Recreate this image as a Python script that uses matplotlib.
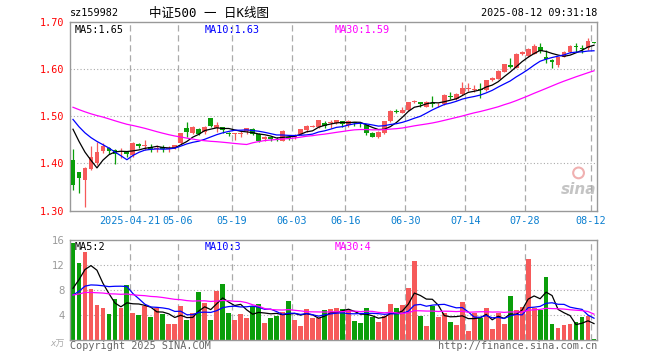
import numpy as np
import pandas as pd
import matplotlib
matplotlib.use("Agg")
import matplotlib.pyplot as plt

# ── data ────────────────────────────────────────────────────────────────────
date_labels = ["2025-04-21", "05-06", "05-19", "06-03", "06-16",
               "06-30", "07-14", "07-28", "08-12"]
date_index = [10, 18, 27, 37, 46, 56, 66, 76, 87]

opens = [1.407, 1.381, 1.365, 1.389, 1.400, 1.426, 1.432, 1.428, 1.419, 1.424,
         1.418, 1.441, 1.436, 1.434, 1.430, 1.434, 1.430, 1.433, 1.443, 1.474,
         1.464, 1.473, 1.467, 1.496, 1.474, 1.477, 1.464, 1.462, 1.463, 1.469,
         1.473, 1.462, 1.451, 1.455, 1.454, 1.448, 1.456, 1.455, 1.462, 1.471,
         1.478, 1.477, 1.486, 1.485, 1.485, 1.489, 1.481, 1.487, 1.485, 1.481,
         1.465, 1.457, 1.464, 1.489, 1.511, 1.506, 1.513, 1.529, 1.529, 1.520,
         1.528, 1.525, 1.525, 1.542, 1.536, 1.546, 1.557, 1.556, 1.558, 1.555,
         1.577, 1.579, 1.594, 1.608, 1.603, 1.632, 1.627, 1.632, 1.647, 1.625,
         1.619, 1.608, 1.626, 1.636, 1.649, 1.643, 1.644, 1.657]
highs = [1.430, 1.382, 1.392, 1.436, 1.445, 1.443, 1.434, 1.430, 1.432, 1.427,
         1.445, 1.443, 1.450, 1.441, 1.440, 1.438, 1.436, 1.440, 1.465, 1.488,
         1.479, 1.476, 1.479, 1.497, 1.488, 1.478, 1.466, 1.464, 1.469, 1.475,
         1.475, 1.464, 1.458, 1.456, 1.455, 1.470, 1.460, 1.462, 1.473, 1.481,
         1.481, 1.493, 1.489, 1.491, 1.493, 1.490, 1.491, 1.488, 1.486, 1.483,
         1.466, 1.468, 1.490, 1.513, 1.516, 1.520, 1.530, 1.535, 1.529, 1.533,
         1.543, 1.528, 1.546, 1.551, 1.550, 1.573, 1.571, 1.566, 1.571, 1.577,
         1.583, 1.597, 1.611, 1.624, 1.633, 1.637, 1.644, 1.652, 1.654, 1.640,
         1.622, 1.626, 1.637, 1.650, 1.654, 1.650, 1.666, 1.658]
lows = [1.344, 1.337, 1.308, 1.386, 1.397, 1.423, 1.420, 1.399, 1.411, 1.414,
        1.413, 1.432, 1.428, 1.425, 1.425, 1.424, 1.425, 1.430, 1.441, 1.455,
        1.462, 1.460, 1.462, 1.477, 1.467, 1.465, 1.458, 1.450, 1.456, 1.462,
        1.460, 1.446, 1.447, 1.447, 1.447, 1.447, 1.450, 1.452, 1.460, 1.467,
        1.477, 1.476, 1.475, 1.474, 1.483, 1.477, 1.478, 1.479, 1.478, 1.461,
        1.455, 1.453, 1.463, 1.488, 1.506, 1.506, 1.511, 1.528, 1.519, 1.519,
        1.520, 1.520, 1.524, 1.536, 1.535, 1.545, 1.553, 1.552, 1.538, 1.554,
        1.575, 1.578, 1.593, 1.603, 1.602, 1.630, 1.625, 1.632, 1.633, 1.612,
        1.601, 1.605, 1.625, 1.633, 1.635, 1.634, 1.641, 1.654]
closes = [1.354, 1.370, 1.391, 1.414, 1.424, 1.436, 1.427, 1.421, 1.421, 1.421,
          1.443, 1.437, 1.438, 1.430, 1.433, 1.431, 1.432, 1.438, 1.464, 1.467,
          1.477, 1.462, 1.478, 1.479, 1.481, 1.470, 1.462, 1.463, 1.465, 1.474,
          1.462, 1.448, 1.455, 1.451, 1.453, 1.469, 1.454, 1.460, 1.472, 1.480,
          1.479, 1.492, 1.480, 1.486, 1.492, 1.484, 1.489, 1.486, 1.484, 1.465,
          1.457, 1.467, 1.489, 1.512, 1.508, 1.513, 1.529, 1.533, 1.525, 1.531,
          1.526, 1.526, 1.545, 1.541, 1.546, 1.560, 1.560, 1.557, 1.555, 1.577,
          1.580, 1.596, 1.610, 1.604, 1.632, 1.636, 1.642, 1.649, 1.637, 1.621,
          1.615, 1.625, 1.636, 1.649, 1.646, 1.642, 1.659, 1.655]
volumes = [15.57, 12.37, 14.13, 8.16, 5.60, 5.12, 4.16, 6.56, 5.12, 8.80,
           4.32, 4.00, 5.44, 3.68, 5.07, 4.16, 2.56, 2.56, 5.44, 3.20,
           4.32, 7.68, 5.92, 3.20, 7.89, 8.96, 4.32, 3.20, 4.16, 3.52,
           5.44, 5.76, 2.72, 3.52, 3.84, 4.42, 6.24, 3.20, 2.24, 4.96,
           3.52, 3.52, 4.80, 4.96, 5.12, 4.96, 4.80, 3.04, 2.72, 5.12,
           3.68, 2.88, 3.84, 5.76, 5.12, 5.60, 8.37, 12.69, 3.84, 2.24,
           5.44, 3.68, 4.32, 2.88, 2.40, 6.08, 1.44, 4.32, 3.52, 5.12,
           1.76, 4.32, 2.56, 7.04, 4.80, 5.28, 13.00, 5.12, 4.80, 10.08,
           2.56, 1.92, 2.40, 2.56, 2.88, 3.68, 3.84, 0.16]

# sessions before the visible window, only needed to start the moving averages
prior_close = [1.520, 1.530, 1.540, 1.535, 1.530, 1.545, 1.540, 1.535, 1.530, 1.520,
               1.525, 1.530, 1.535, 1.540, 1.530, 1.525, 1.520, 1.530, 1.535, 1.540,
               1.525, 1.520, 1.515, 1.505, 1.505, 1.498, 1.505, 1.500, 1.505]
prior_volume = [7.5, 6.8, 8.2, 7.0, 6.5, 7.8, 7.2, 6.9, 7.4, 8.0,
                6.6, 7.1, 7.3, 6.8, 7.6, 7.0, 6.9, 7.2, 7.5, 6.7,
                6.5, 5.8, 6.2, 6.0, 6.1, 5.5, 6.0, 5.0, 9.3]

RED = "#f65a5a"
GREEN = "#0a9e0a"
GRID = "#aaaaaa"
FRAME = "#999999"
DATE_BLUE = "#0a7fd0"
W, H = 660, 360


def ma(prior, vals, n):
    s = pd.Series(list(prior) + list(vals)).rolling(n).mean()
    return s.values[len(prior):]


def fx(px):
    return px / W


def fy(py):
    return 1 - py / H


def trunc2(v):
    return f"{np.floor(v * 100 + 1e-9) / 100:.2f}"


plt.rcParams["font.family"] = ["DejaVu Sans Mono", "Noto Sans CJK SC"]

o = np.array(opens)
h = np.array(highs)
l = np.array(lows)
c = np.array(closes)
v = np.array(volumes)
x = np.arange(len(c))
colors = np.where(c >= o, RED, GREEN)

fig = plt.figure(figsize=(6.6, 3.6), dpi=100)
ax = fig.add_axes([fx(70), fy(210.7), fx(527), 189 / H])
axv = fig.add_axes([fx(70), fy(340), fx(527), 100 / H])

# ── price panel ─────────────────────────────────────────────────────────────
ax.vlines(x, l, h, colors=colors, lw=0.9, zorder=2)
body = np.maximum(np.abs(c - o), 0.0018)
ax.bar(x, body, bottom=np.minimum(o, c), width=0.8, color=colors,
       linewidth=0, zorder=3)

ma5 = ma(prior_close, c, 5)
ma10 = ma(prior_close, c, 10)
ma30 = ma(prior_close, c, 30)
ax.plot(x, ma5, color="black", lw=0.9, zorder=4)
ax.plot(x, ma10, color="#0000ff", lw=0.9, zorder=4)
ax.plot(x, ma30, color="#ff00ff", lw=0.9, zorder=4)

ax.set_xlim(-0.5, len(c) - 0.5)
ax.set_ylim(1.30, 1.70)
ax.set_yticks([1.30, 1.40, 1.50, 1.60, 1.70])
ax.set_yticklabels(["1.30", "1.40", "1.50", "1.60", "1.70"])
ax.set_xticks([i - 0.5 for i in date_index])
ax.set_xticklabels(date_labels)
ax.tick_params(axis="y", length=0, pad=4, labelcolor="red", labelsize=7.3)
ax.tick_params(axis="x", length=0, pad=4, labelcolor=DATE_BLUE, labelsize=7.3)
for yv in [1.40, 1.50, 1.60]:
    ax.axhline(yv, color=GRID, lw=0.8, ls=(0, (1, 2)), zorder=1)
for i in date_index:
    ax.axvline(i - 0.5, color=GRID, lw=0.9, ls=(0, (5, 3)), zorder=1)

ax.text(0.008, 0.985, "MA5:" + trunc2(ma5[-1]), transform=ax.transAxes,
        ha="left", va="top", fontsize=7.3, color="black")
ax.text((205 - 70) / 527, 0.985, "MA10:" + trunc2(ma10[-1]), transform=ax.transAxes,
        ha="left", va="top", fontsize=7.3, color="#0000ff")
ax.text((335 - 70) / 527, 0.985, "MA30:" + trunc2(ma30[-1]), transform=ax.transAxes,
        ha="left", va="top", fontsize=7.3, color="#ff00ff")

# sina watermark
ax.text(0.998, 0.07, "sina", transform=ax.transAxes, ha="right", va="bottom",
        fontsize=11, fontweight="bold", fontstyle="italic", color="#c4c4c4",
        family="DejaVu Sans", zorder=0)
ax.scatter([0.965], [0.2], s=60, transform=ax.transAxes, facecolors="none",
           edgecolors="#f0b0b0", linewidths=1.5, zorder=0)

# ── volume panel ────────────────────────────────────────────────────────────
axv.bar(x, v, width=0.8, color=colors, linewidth=0, zorder=2)
vma5 = ma(prior_volume, v, 5)
vma10 = ma(prior_volume, v, 10)
vma30 = ma(prior_volume, v, 30)
axv.plot(x, vma5, color="black", lw=0.9, zorder=4)
axv.plot(x, vma10, color="#0000ff", lw=0.9, zorder=4)
axv.plot(x, vma30, color="#ff00ff", lw=0.9, zorder=4)

axv.set_xlim(-0.5, len(c) - 0.5)
axv.set_ylim(0, 16)
axv.set_yticks([4, 8, 12, 16])
axv.set_yticklabels(["4", "8", "12", "16"], family="DejaVu Sans")
axv.set_xticks([])
axv.tick_params(axis="y", length=0, pad=4, labelcolor="#999999", labelsize=7.3)
for yv in [4, 8, 12]:
    axv.axhline(yv, color=GRID, lw=0.8, ls=(0, (1, 2)), zorder=1)
for i in date_index:
    axv.axvline(i - 0.5, color=GRID, lw=0.9, ls=(0, (5, 3)), zorder=1)

axv.text(0.008, 0.985, "MA5:%d" % int(vma5[-1]), transform=axv.transAxes,
         ha="left", va="top", fontsize=7.3, color="black", zorder=5)
axv.text((205 - 70) / 527, 0.985, "MA10:%d" % int(vma10[-1]), transform=axv.transAxes,
         ha="left", va="top", fontsize=7.3, color="#0000ff", zorder=5)
axv.text((335 - 70) / 527, 0.985, "MA30:%d" % int(vma30[-1]), transform=axv.transAxes,
         ha="left", va="top", fontsize=7.3, color="#ff00ff", zorder=5)

for a in (ax, axv):
    for sp in a.spines.values():
        sp.set_color(FRAME)
        sp.set_linewidth(1.0)

# ── header / footer text ────────────────────────────────────────────────────
fig.text(fx(70), fy(13), "sz159982", ha="left", va="center", fontsize=7.3)
fig.text(fx(209), fy(13), "中证500 一 日K线图", ha="center", va="center", fontsize=9)
fig.text(fx(597), fy(13), "2025-08-12 09:31:18", ha="right", va="center", fontsize=7.3)
fig.text(fx(57), fy(344), "x万", ha="center", va="center", fontsize=6.5,
         color="#aaaaaa", fontstyle="italic")
fig.text(fx(70), fy(346), "Copyright 2025 SINA.COM", ha="left", va="center",
         fontsize=7.3, color="#666666")
fig.text(fx(597), fy(346), "http://finance.sina.com.cn", ha="right", va="center",
         fontsize=7.3, color="#666666")

fig.savefig("out.png", dpi=100, facecolor="white")
